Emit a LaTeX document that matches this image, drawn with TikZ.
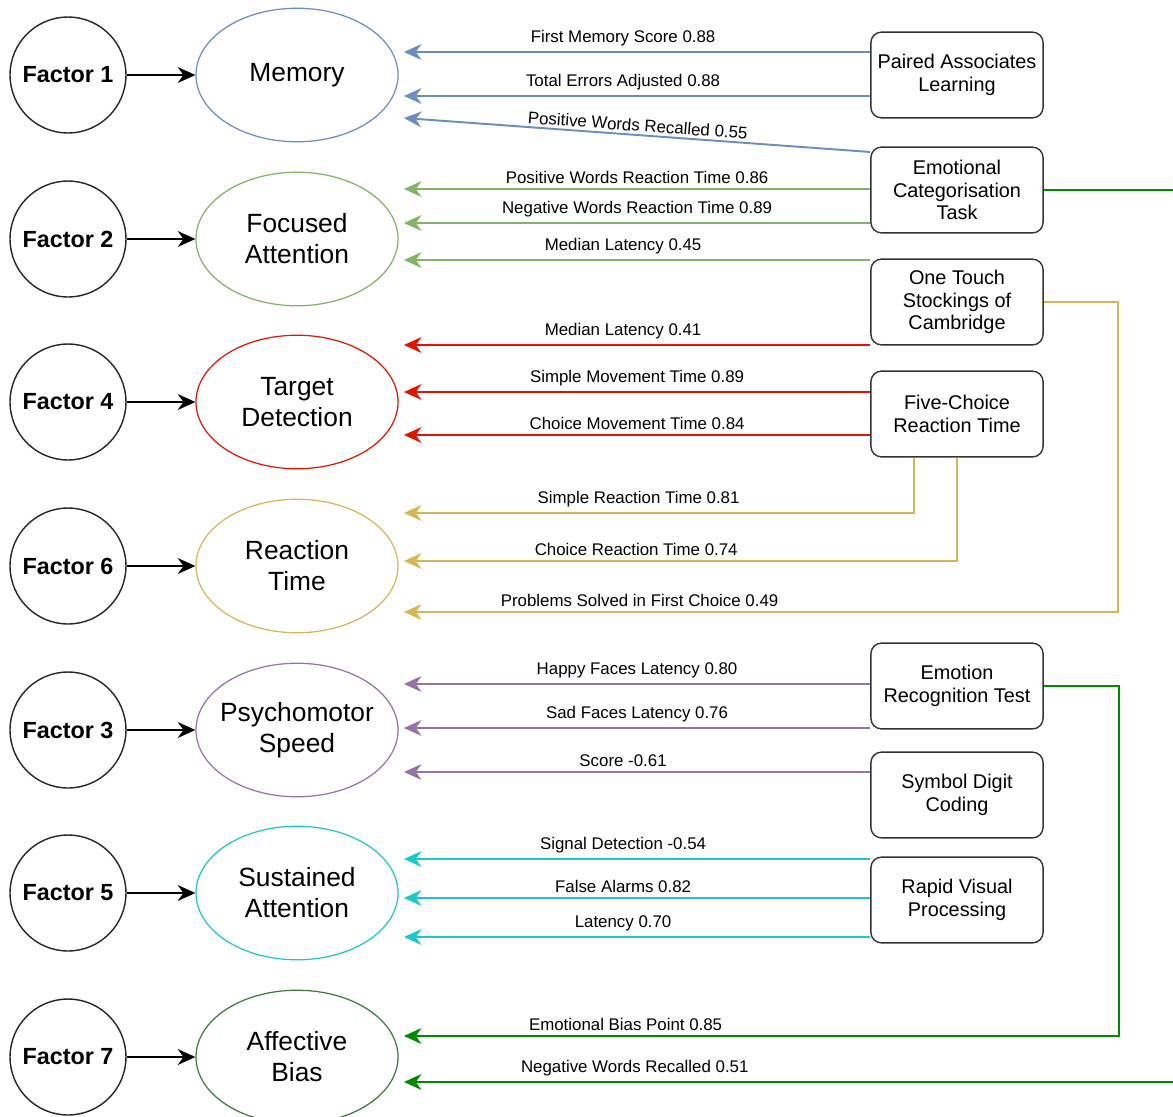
\documentclass[tikz,border=0pt]{standalone}
\usepackage{fontspec}
\setmainfont{Liberation Sans}
\usetikzlibrary{arrows.meta,shapes.geometric}

\definecolor{memblue}{HTML}{6C8EBF}
\definecolor{focgreen}{HTML}{82B366}
\definecolor{tarred}{HTML}{E51400}
\definecolor{reagold}{HTML}{D6B656}
\definecolor{psypurple}{HTML}{9673A6}
\definecolor{suscyan}{HTML}{1CC8C8}
\definecolor{affgreen}{HTML}{008A00}
\definecolor{affedge}{HTML}{3A7D3A}

\def\boxw{98pt}
\def\boxh{48.8pt}

\begin{document}
\begin{tikzpicture}[x=0.02cm, y=-0.02cm, >={Stealth[length=10pt,width=9pt]}]
\tikzstyle{factor}=[circle, draw=black!85, line width=0.8pt, minimum size=66pt, inner sep=0pt, font=\fontsize{13.3}{15}\selectfont\bfseries]
\tikzstyle{latent}=[ellipse, draw, line width=0.7pt, minimum width=115pt, minimum height=76pt, inner xsep=-4pt, inner ysep=0pt, align=center, font=\fontsize{15}{17.6}\selectfont]
\tikzstyle{task}=[rectangle, rounded corners=6pt, draw=black!80, line width=0.8pt, minimum width=\boxw, minimum height=\boxh, inner sep=1pt, align=center, font=\fontsize{11.3}{13}\selectfont]
\tikzstyle{load}=[->, line width=1.1pt]
\tikzstyle{lbl}=[above, inner sep=2.6pt, text=black, font=\fontsize{9.6}{11}\selectfont]

\useasboundingbox (0,0) rectangle (1173,1116);
\clip (0,0) rectangle (1173,1116);

% Draw the factors and the latent traits
\foreach \f/\name/\y/\col/\txt in {1/mem/75/memblue/Memory, 2/foc/239/focgreen/{Focused\\Attention}, 4/tar/402/tarred/{Target\\Detection}, 6/rea/566/reagold/{Reaction\\Time}, 3/psy/730/psypurple/{Psychomotor\\Speed}, 5/sus/893/suscyan/{Sustained\\Attention}, 7/aff/1057/affedge/{Affective\\Bias}}
{
  \node[factor] (F\f) at (68,\y) {Factor \f};
  \node[latent, draw=\col] (\name) at (297,\y) {\txt};
  \coordinate (\name-in) at ([xshift=3pt]\name.east);
  \draw[load] (F\f) -- (\name);
}

% Draw the tasks
\node[task] (pal) at (957,75) {Paired Associates\\Learning};
\node[task] (ect) at (957,190) {Emotional\\Categorisation\\Task};
\node[task] (otsc) at (957,302) {One Touch\\Stockings of\\Cambridge};
\node[task] (fcrt) at (957,414) {Five-Choice\\Reaction Time};
\node[task] (ert) at (957,686) {Emotion\\Recognition Test};
\node[task] (sdc) at (957,795) {Symbol Digit\\Coding};
\node[task] (rvp) at (957,900) {Rapid Visual\\Processing};

% Memory
\draw[load, memblue] (pal.west |- 0,52) -- node[lbl, pos=0.53] {First Memory Score 0.88} (mem-in |- 0,52);
\draw[load, memblue] (pal.west |- 0,96) -- node[lbl, pos=0.53] {Total Errors Adjusted 0.88} (mem-in |- 0,96);
\draw[load, memblue] (ect.west |- 0,152) -- node[lbl, sloped, inner sep=1.5pt] {Positive Words Recalled 0.55} (mem-in |- 0,118);

% Focused attention
\draw[load, focgreen] (ect.west |- 0,189) -- node[lbl] {Positive Words Reaction Time 0.86} (foc-in |- 0,189);
\draw[load, focgreen] (ect.west |- 0,223) -- node[lbl] {Negative Words Reaction Time 0.89} (foc-in |- 0,223);
\draw[load, focgreen] (otsc.west |- 0,260) -- node[lbl, pos=0.53] {Median Latency 0.45} (foc-in |- 0,260);

% Target detection
\draw[load, tarred] (otsc.west |- 0,345) -- node[lbl, pos=0.53] {Median Latency 0.41} (tar-in |- 0,345);
\draw[load, tarred] (fcrt.west |- 0,392) -- node[lbl] {Simple Movement Time 0.89} (tar-in |- 0,392);
\draw[load, tarred] (fcrt.west |- 0,435) -- node[lbl] {Choice Movement Time 0.84} (tar-in |- 0,435);

% Reaction time
\draw[load, reagold] (fcrt.south -| 914,0) |- node[lbl, pos=0.77] {Simple Reaction Time 0.81} (rea-in |- 0,513);
\draw[load, reagold] (fcrt.south) |- node[lbl, pos=0.79] {Choice Reaction Time 0.74} (rea-in |- 0,561);
\draw[load, reagold] (otsc.east) -| (1118,612) -- node[lbl, pos=0.67] {Problems Solved in First Choice 0.49} (rea-in |- 0,612);

% Psychomotor speed
\draw[load, psypurple] (ert.west |- 0,684) -- node[lbl] {Happy Faces Latency 0.80} (psy-in |- 0,684);
\draw[load, psypurple] (ert.west |- 0,728) -- node[lbl] {Sad Faces Latency 0.76} (psy-in |- 0,728);
\draw[load, psypurple] (sdc.west |- 0,772) -- node[lbl, pos=0.53] {Score -0.61} (psy-in |- 0,772);

% Sustained attention
\draw[load, suscyan] (rvp.west |- 0,859) -- node[lbl, pos=0.53] {Signal Detection -0.54} (sus-in |- 0,859);
\draw[load, suscyan] (rvp.west |- 0,898) -- node[lbl, pos=0.53] {False Alarms 0.82} (sus-in |- 0,898);
\draw[load, suscyan] (rvp.west |- 0,937) -- node[lbl, pos=0.53] {Latency 0.70} (sus-in |- 0,937);

% Affective bias
\draw[load, affgreen] (ert.east) -| (1119,1036) -- node[lbl, pos=0.69] {Emotional Bias Point 0.85} (aff-in |- 0,1036);
\draw[load, affgreen] (ect.east) -| (1200,1082) -- node[lbl, pos=0.71] {Negative Words Recalled 0.51} (aff-in |- 0,1082);
\end{tikzpicture}
\end{document}
